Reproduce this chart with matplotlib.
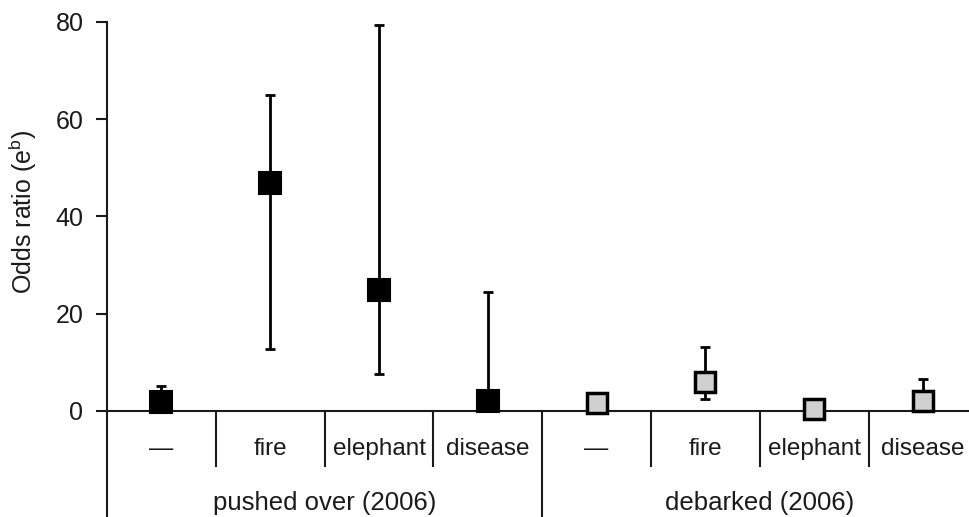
import matplotlib.pyplot as plt

plt.rcParams['font.family'] = ['Liberation Sans', 'DejaVu Sans']

# Kategorier og grupper
categories = ["\u2014", "fire", "elephant", "disease",
              "\u2014", "fire", "elephant", "disease"]
groups = ["pushed over (2006)", "debarked (2006)"]

# Odds ratios med konfidensgraenser (aflaest fra figuren)
pushed_or = [1.8, 46.9, 24.9, 2.0]
pushed_low = [1.8, 12.8, 7.6, 2.0]
pushed_high = [5.2, 65.0, 79.4, 24.5]

debarked_or = [1.7, 5.9, 0.4, 2.1]
debarked_low = [1.7, 2.5, 0.4, 2.1]
debarked_high = [1.7, 13.1, 0.4, 6.6]

yticks = [0, 20, 40, 60, 80]

fig = plt.figure(figsize=(9.7, 5.17), dpi=100)
ax = fig.add_axes([107 / 970, 0.0, 1 - 107 / 970, (517 - 22) / 517])

ymin = -(517 - 411) / 4.8625
ax.set_ylim(ymin, 80)
ax.set_xlim(0.5, 0.5 + 863 / 108.8)

x_p = [1, 2, 3, 4]
x_d = [5, 6, 7, 8]

def draw(xs, vals, lo, hi, face, ms, mew):
    for x, v, l, h in zip(xs, vals, lo, hi):
        if h > v:
            ax.errorbar([x], [v], yerr=[[0], [h - v]], fmt='none', ecolor='black',
                        elinewidth=2, capsize=3.5, capthick=2, zorder=2)
        if l < v:
            ax.errorbar([x], [v], yerr=[[v - l], [0]], fmt='none', ecolor='black',
                        elinewidth=2, capsize=3.5, capthick=2, zorder=2)
    ax.plot(xs, vals, linestyle='none', marker='s', markersize=ms,
            markerfacecolor=face, markeredgecolor='black', markeredgewidth=mew, zorder=3)

draw(x_p, pushed_or, pushed_low, pushed_high, 'black', 15.5, 1.5)
draw(x_d, debarked_or, debarked_low, debarked_high, '#d0d0d0', 14, 2.5)

# nul-linje og kategoriskel
ax.axhline(0, color='#1a1a1a', linewidth=1.5, zorder=1)
for k in range(1, 8):
    bottom = ymin if k == 4 else -(466 - 411) / 4.8625
    ax.plot([k + 0.5, k + 0.5], [0, bottom], color='#1a1a1a', linewidth=1.5,
            clip_on=False)

lab_y = -(449 - 411) / 4.8625
for i, c in enumerate(categories):
    ax.text(i + 1, lab_y, c, ha='center', va='center', fontsize=17.5, color='#1a1a1a')
grp_y = -(503 - 411) / 4.8625
ax.text(2.5, grp_y, groups[0], ha='center', va='center', fontsize=18.5, color='#1a1a1a')
ax.text(6.5, grp_y, groups[1], ha='center', va='center', fontsize=18.5, color='#1a1a1a')

for s in ['top', 'right', 'bottom']:
    ax.spines[s].set_visible(False)
ax.spines['left'].set_color('#1a1a1a')
ax.spines['left'].set_linewidth(1.5)
ax.set_xticks([])
ax.set_yticks(yticks)
ax.tick_params(axis='y', length=8, width=1.5, color='#1a1a1a', labelsize=18,
               labelcolor='#1a1a1a', pad=9)

fig.text(23 / 970, 1 - 212 / 517, "Odds ratio (e$^{\\mathregular{b}}$)", rotation=90,
         ha='center', va='center', fontsize=18, color='#1a1a1a')

fig.savefig("out.png", dpi=100)
